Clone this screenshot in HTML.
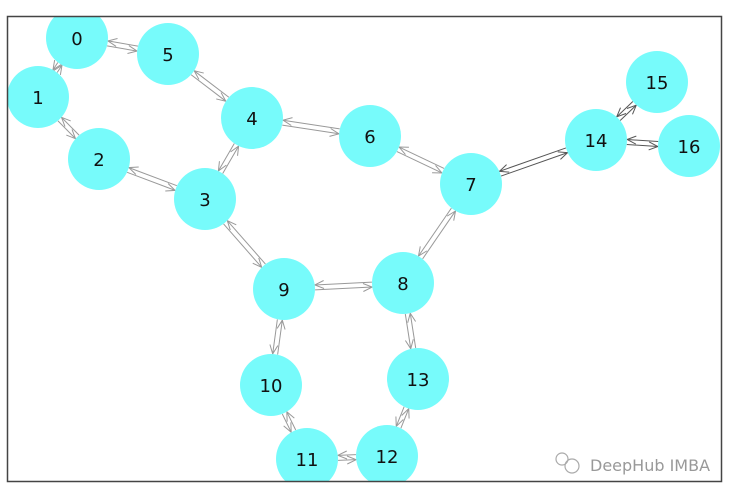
<!DOCTYPE html>
<html><head><meta charset="utf-8"><style>
body{margin:0;background:#fff;width:738px;height:498px;overflow:hidden;font-family:"Liberation Sans",sans-serif}
</style></head><body>
<svg id="s" width="738" height="498" viewBox="0 0 738 498" xmlns="http://www.w3.org/2000/svg">
<defs><clipPath id="c"><rect x="8" y="17" width="713" height="464"/></clipPath></defs>
<g id="g" clip-path="url(#c)"></g>
<rect x="7.5" y="16.5" width="714" height="465" fill="none" stroke="#444" stroke-width="1.5"/>
<g fill="none" stroke="#aaa" stroke-width="1.2"><circle cx="562" cy="459" r="6"/><circle cx="572" cy="466" r="7"/></g>
<text x="590" y="471" font-size="16" fill="#999" font-family="DejaVu Sans, sans-serif">DeepHub IMBA</text>
</svg>
<script>
var N={0:[77,38],5:[168,54],1:[38,97],2:[99,159],4:[252,118],6:[370,136],3:[205,199],7:[471,184],14:[596,140],15:[657,82],16:[689,146],9:[284,289],8:[403,283],10:[271,385],13:[418,379],11:[307,459],12:[387,456]};
var E=[[0,5],[0,1],[1,2],[2,3],[3,4],[4,5],[4,6],[6,7],[7,14],[14,15],[14,16],[7,8],[8,9],[3,9],[9,10],[10,11],[11,12],[12,13],[13,8]];
var g=document.getElementById('g'),h='',R=31;
function ed(a,b,col){var p=N[a],q=N[b],dx=q[0]-p[0],dy=q[1]-p[1],L=Math.hypot(dx,dy),ux=dx/L,uy=dy/L,nx=-uy*2.5,ny=ux*2.5;
var x1=p[0]+ux*R+nx,y1=p[1]+uy*R+ny,x2=q[0]-ux*R+nx,y2=q[1]-uy*R+ny;
h+='<line x1="'+x1+'" y1="'+y1+'" x2="'+x2+'" y2="'+y2+'" stroke="'+col+'" stroke-width="1"/>';
var ax=x2-ux*9,ay=y2-uy*9;
h+='<polyline points="'+(ax-uy*4)+','+(ay+ux*4)+' '+x2+','+y2+' '+(ax+uy*4)+','+(ay-ux*4)+'" fill="none" stroke="'+col+'" stroke-width="1"/>';}
E.forEach(function(e){var col=(e[0]==14||e[1]==14)?'#555':'#999';ed(e[0],e[1],col);ed(e[1],e[0],col);});
for(var k in N){h+='<circle cx="'+N[k][0]+'" cy="'+N[k][1]+'" r="'+R+'" fill="#77fbfb"/>';
h+='<text x="'+N[k][0]+'" y="'+(N[k][1]+7)+'" text-anchor="middle" font-size="18" fill="#111" font-family="DejaVu Sans, sans-serif">'+k+'</text>';}
g.innerHTML=h;
</script>
</body></html>
